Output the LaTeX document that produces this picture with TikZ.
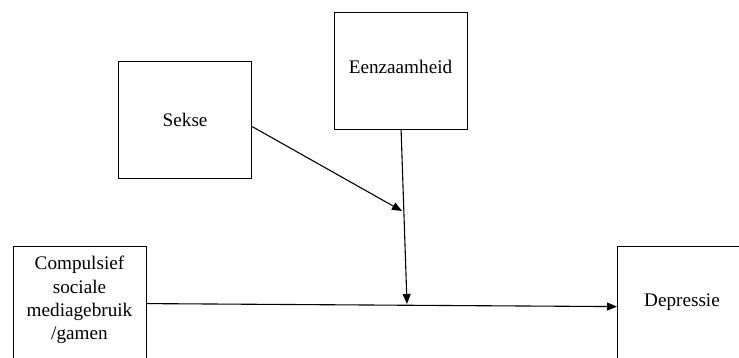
\documentclass[tikz,border=0pt]{standalone}
\usepackage{fontspec}
\setmainfont{Liberation Serif}
\newfontfamily\tnr{Liberation Serif}
\usetikzlibrary{arrows.meta}
\begin{document}
\begin{tikzpicture}[x=1pt,y=-1pt,
  box/.style={draw, line width=1.2pt, inner sep=0pt},
  lbl/.style={font=\tnr\fontsize{19.2}{23.3}\selectfont, align=center, inner sep=0pt},
  arr/.style={line width=1.1pt, -{Triangle[length=10pt,width=8pt]}}]
\useasboundingbox (0,0) rectangle (739,358);
\clip (0,0) rectangle (739,358);
\node[box, lbl, minimum width=133pt, minimum height=117pt, anchor=north west] (sekse) at (118,61) {Sekse};
\node[box, minimum width=133pt, minimum height=117pt, anchor=north west] (een) at (334,12) {};
\node[lbl] (eentext) at (400.5,67) {Eenzaamheid};
\node[box, minimum width=133pt, minimum height=140pt, anchor=north west] (comp) at (13,246) {};
\node[lbl] (comptext) at (79.5,300) {Compulsief\\sociale\\mediagebruik\\/gamen};
\node[box, minimum width=160pt, minimum height=140pt, anchor=north west] (dep) at (617,246) {};
\node[lbl] (deptext) at (682,302) {Depressie};
\coordinate (m) at (407,304);
\coordinate (j) at (402,211);
\draw[arr] ([yshift=13pt]comp.east) -- ([yshift=10pt]dep.west);
\draw[arr] (een.south) -- (m);
\draw[arr] ([yshift=-6.5pt]sekse.east) -- (j);
\end{tikzpicture}
\end{document}
